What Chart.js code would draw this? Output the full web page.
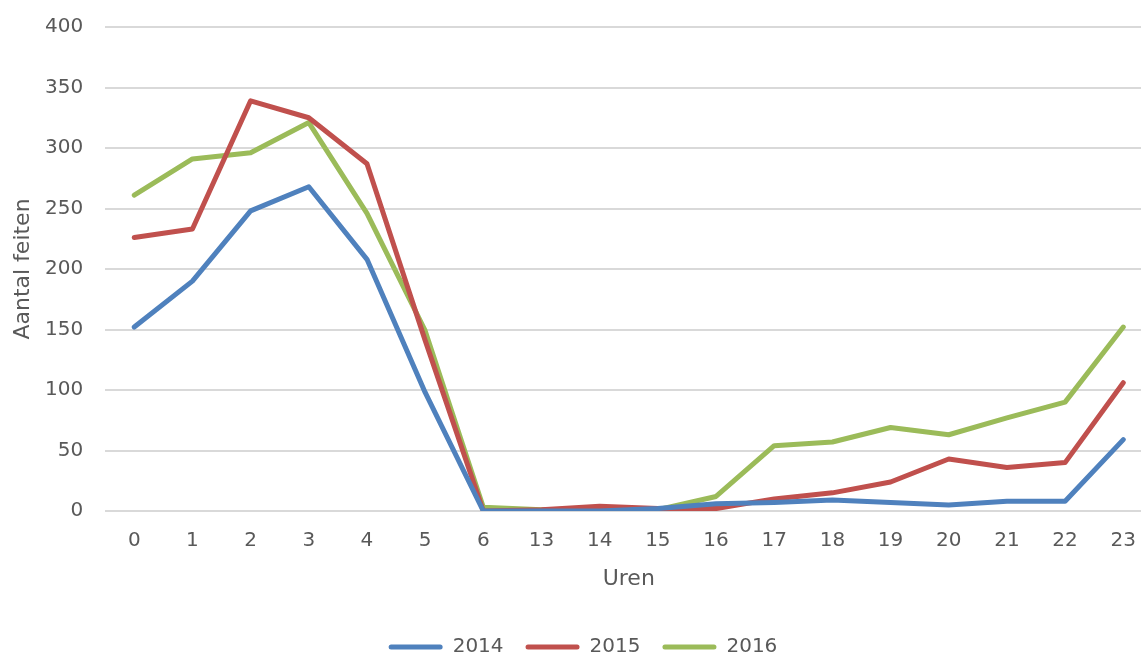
<!DOCTYPE html>
<html>
<head>
<meta charset="utf-8">
<script src="https://cdn.jsdelivr.net/npm/chart.js@4.4.1/dist/chart.umd.min.js"></script>
<style>
  html, body { margin: 0; padding: 0; background: #fff; overflow: hidden; }
  #wrap { width: 1154px; height: 667px; }
</style>
</head>
<body>
<div id="wrap"><canvas id="chart"></canvas></div>
<script>
// ===== Data =====
const hours = ["0", "1", "2", "3", "4", "5", "6", "13", "14", "15", "16", "17", "18", "19", "20", "21", "22", "23"];
const values2014 = [152, 190, 248, 268, 208, 98, 0, 0, 0, 2, 6, 7, 9, 7, 5, 8, 8, 59];
const values2015 = [226, 233, 339, 325, 287, 141, 0, 1, 4, 2, 2, 10, 15, 24, 43, 36, 40, 106];
const values2016 = [261, 291, 296, 321, 246, 149, 3, 1, 1, 1, 12, 54, 57, 69, 63, 77, 90, 152];
const yTicks = [0, 50, 100, 150, 200, 250, 300, 350, 400];

const textColor = "#595959";
const fontFamily = "'DejaVu Sans', sans-serif";

function series(label, data, color) {
    return {
        label: label,
        data: data,
        borderColor: color,
        backgroundColor: color,
        borderWidth: 5,
        pointRadius: 0,
        tension: 0,
        borderCapStyle: "round",
        borderJoinStyle: "round"
    };
}

// ===== Chart =====
// canvas is a bit larger than the window so the plot area runs past the right edge, like the original
const ctx = document.getElementById("chart").getContext("2d");
new Chart(ctx, {
    type: "line",
    data: {
        labels: hours,
        datasets: [
            series("2014", values2014, "#4F81BD"),
            series("2015", values2015, "#C0504D"),
            series("2016", values2016, "#9BBB59")
        ]
    },
    options: {
        responsive: true,
        maintainAspectRatio: false,
        animation: false,
        layout: { padding: { top: 27, right: 0, bottom: 0, left: 12 } },
        plugins: {
            legend: {
                position: "bottom",
                labels: {
                    color: textColor,
                    font: { family: fontFamily, size: 20 },
                    boxWidth: 54,
                    boxHeight: 5,
                    padding: 22,
                    useBorderRadius: true,
                    borderRadius: 2.5,
                    generateLabels: chart => Chart.defaults.plugins.legend.labels.generateLabels(chart)
                        .map(item => ({ ...item, lineWidth: 0, strokeStyle: "rgba(0,0,0,0)" }))
                }
            },
            tooltip: { enabled: false }
        },
        scales: {
            x: {
                offset: true,
                grid: { display: false, drawTicks: false },
                border: { display: false },
                ticks: { color: textColor, font: { family: fontFamily, size: 20 }, padding: 18, maxRotation: 0 },
                title: { display: true, text: "Uren", color: textColor, font: { family: fontFamily, size: 22, lineHeight: 1 }, padding: { top: -3, bottom: 25 } }
            },
            y: {
                min: 0,
                max: 400,
                afterBuildTicks: axis => { axis.ticks = yTicks.map(v => ({ value: v })); },
                // invisible tick marks keep the label gap without pushing the plot down
                grid: { color: "#d9d9d9", lineWidth: 2, drawTicks: true, tickLength: 15, tickColor: "rgba(0,0,0,0)" },
                border: { display: false },
                ticks: { color: textColor, font: { family: fontFamily, size: 20 }, padding: 7 },
                title: { display: true, text: "Aantal feiten", color: textColor, font: { family: fontFamily, size: 22, lineHeight: 1 }, padding: { top: 0, bottom: 4 } }
            }
        }
    }
});
</script>
</body>
</html>
